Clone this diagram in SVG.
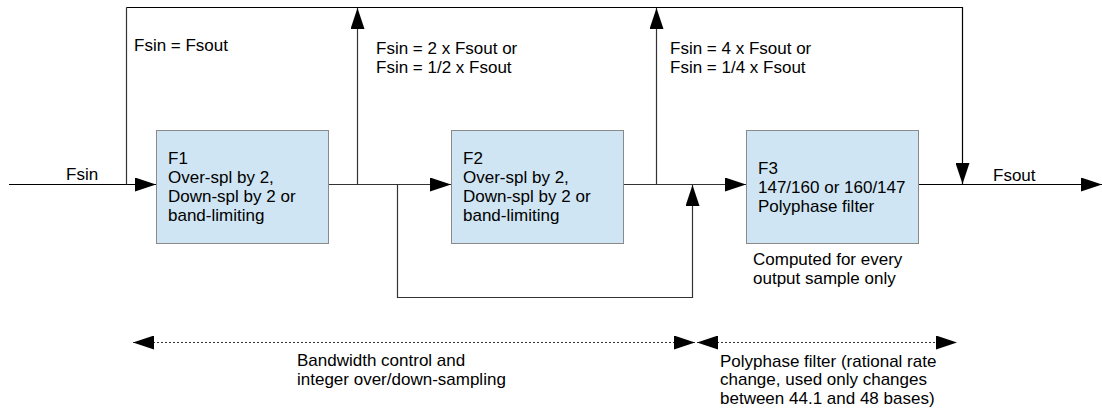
<svg xmlns="http://www.w3.org/2000/svg" width="1102" height="412" viewBox="0 0 1102 412">
  <style>
    text { font-family: "Liberation Sans", Arial, sans-serif; font-size: 17px; fill: #000; }
    .box { fill: #cfe5f3; stroke: #8a8a8a; stroke-width: 1; }
    .wire { fill: none; stroke: #333; stroke-width: 1.2; }
    .dark { stroke: #000; }
    .span { fill: none; stroke: #333; stroke-width: 1; stroke-dasharray: 2 2; }
  </style>
  <defs>
    <marker id="tri" markerUnits="userSpaceOnUse" markerWidth="21" markerHeight="14" refX="21" refY="7" orient="auto-start-reverse">
      <path d="M0,0 L21,7 L0,14 z" fill="#000"/>
    </marker>
  </defs>

  <rect width="1102" height="412" fill="#fff"/>

  <g id="connectors">
    <path class="wire dark" d="M9,184.5 H156" marker-end="url(#tri)"/>
    <path class="wire" d="M126.5,184.5 V7.5"/>
    <path class="wire dark" d="M126.5,7.5 H962.5 V184" marker-end="url(#tri)"/>
    <path class="wire" d="M328,184.5 H451" marker-end="url(#tri)"/>
    <path class="wire" d="M357.5,184.5 V8" marker-end="url(#tri)"/>
    <path class="wire" d="M397.5,184.5 V297.5 H692.5 V185" marker-end="url(#tri)"/>
    <path class="wire" d="M623,184.5 H746" marker-end="url(#tri)"/>
    <path class="wire" d="M656.5,184.5 V8" marker-end="url(#tri)"/>
    <path class="wire dark" d="M918,184.5 H1102" marker-end="url(#tri)"/>
    <path class="span" d="M133,342.5 H695" marker-start="url(#tri)" marker-end="url(#tri)"/>
    <path class="span" d="M697,342.5 H957" marker-start="url(#tri)" marker-end="url(#tri)"/>
  </g>

  <g id="labels">
    <text x="66" y="180">Fsin</text>
    <text x="134" y="51">Fsin = Fsout</text>
    <text x="376" y="54">Fsin = 2 x Fsout or</text>
    <text x="376" y="72.7">Fsin = 1/2 x Fsout</text>
    <text x="670" y="54">Fsin = 4 x Fsout or</text>
    <text x="670" y="72.7">Fsin = 1/4 x Fsout</text>
    <text x="993" y="181">Fsout</text>
    <text x="753" y="265">Computed for every</text>
    <text x="753" y="283.5">output sample only</text>
    <text x="297" y="366">Bandwidth control and</text>
    <text x="297" y="384.5">integer over/down-sampling</text>
    <text x="720" y="366.5">Polyphase filter (rational rate</text>
    <text x="720" y="385">change, used only changes</text>
    <text x="720" y="403.5">between 44.1 and 48 bases)</text>
  </g>

  <g id="F1">
    <rect class="box" x="156.5" y="130.5" width="172" height="113"/>
    <text x="168" y="164">F1</text>
    <text x="168" y="183">Over-spl by 2,</text>
    <text x="168" y="201.7">Down-spl by 2 or</text>
    <text x="168" y="220.5">band-limiting</text>
  </g>

  <g id="F2">
    <rect class="box" x="451.5" y="130.5" width="172" height="113"/>
    <text x="463" y="164">F2</text>
    <text x="463" y="183">Over-spl by 2,</text>
    <text x="463" y="201.7">Down-spl by 2 or</text>
    <text x="463" y="220.5">band-limiting</text>
  </g>

  <g id="F3">
    <rect class="box" x="746.5" y="130.5" width="172" height="113"/>
    <text x="758" y="174">F3</text>
    <text x="758" y="193">147/160 or 160/147</text>
    <text x="758" y="211.7">Polyphase filter</text>
  </g>
</svg>
